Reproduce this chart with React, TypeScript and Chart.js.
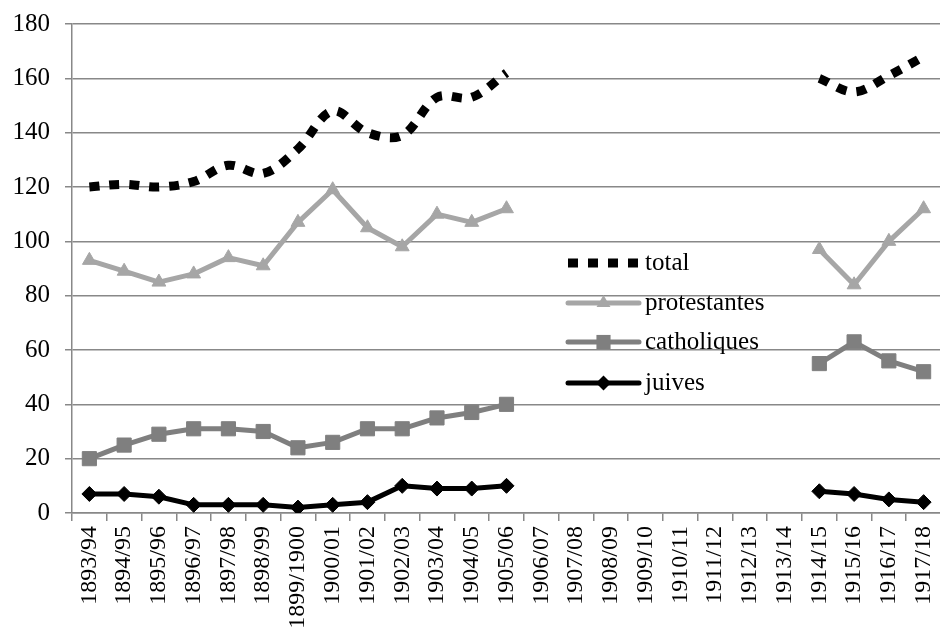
import React, { useEffect, useRef } from 'react';
import { Chart, registerables } from 'chart.js';

Chart.register(...registerables);

const categories = [
  '1893/94', '1894/95', '1895/96', '1896/97', '1897/98', '1898/99', '1899/1900',
  '1900/01', '1901/02', '1902/03', '1903/04', '1904/05', '1905/06', '1906/07',
  '1907/08', '1908/09', '1909/10', '1910/11', '1911/12', '1912/13', '1913/14',
  '1914/15', '1915/16', '1916/17', '1917/18',
];

const total = [120, 121, 120, 122, 128, 125, 134, 148, 140, 139, 153, 153, 162,
  null, null, null, null, null, null, null, null, 160, 155, 161, 168];
const protestantes = [93, 89, 85, 88, 94, 91, 107, 119, 105, 98, 110, 107, 112,
  null, null, null, null, null, null, null, null, 97, 84, 100, 112];
const catholiques = [20, 25, 29, 31, 31, 30, 24, 26, 31, 31, 35, 37, 40,
  null, null, null, null, null, null, null, null, 55, 63, 56, 52];
const juives = [7, 7, 6, 3, 3, 3, 2, 3, 4, 10, 9, 9, 10,
  null, null, null, null, null, null, null, null, 8, 7, 5, 4];

const seriesNames = ['total', 'protestantes', 'catholiques', 'juives'];
const yTicks = [0, 20, 40, 60, 80, 100, 120, 140, 160, 180];

const FONT = "'Liberation Serif', 'Times New Roman', serif";

function drawMarker(ctx: CanvasRenderingContext2D, style: string, x: number, y: number, r: number, color: string) {
  ctx.save();
  ctx.fillStyle = color;
  ctx.beginPath();
  if (style === 'triangle') {
    for (let k = 0; k < 3; k++) {
      const a = k * (2 * Math.PI / 3);
      const px = x + Math.sin(a) * r;
      const py = y - Math.cos(a) * r;
      if (k === 0) ctx.moveTo(px, py); else ctx.lineTo(px, py);
    }
    ctx.closePath();
  } else if (style === 'rect') {
    const s = Math.SQRT1_2 * r;
    ctx.rect(x - s, y - s, 2 * s, 2 * s);
  } else if (style === 'rectRot') {
    ctx.moveTo(x - r, y);
    ctx.lineTo(x, y - r);
    ctx.lineTo(x + r, y);
    ctx.lineTo(x, y + r);
    ctx.closePath();
  }
  ctx.fill();
  ctx.restore();
}

const insideLegend = {
  id: 'insideLegend',
  afterDatasetsDraw(chart: any) {
    const ctx: CanvasRenderingContext2D = chart.ctx;
    const x0 = 568, x1 = 639, tx = 645;
    const rows = [263, 303, 342, 383];
    chart.data.datasets.forEach((ds: any, i: number) => {
      const y = rows[i];
      ctx.save();
      ctx.strokeStyle = ds.borderColor;
      ctx.lineWidth = ds.borderWidth;
      ctx.lineCap = ds.borderDash && ds.borderDash.length ? 'butt' : 'round';
      ctx.setLineDash(ds.borderDash || []);
      ctx.beginPath();
      ctx.moveTo(x0, y);
      ctx.lineTo(x1, y);
      ctx.stroke();
      ctx.restore();
      if (ds.pointRadius > 0) {
        drawMarker(ctx, ds.pointStyle, (x0 + x1) / 2, y, ds.pointRadius, ds.pointBackgroundColor);
      }
      ctx.save();
      ctx.fillStyle = '#000';
      ctx.font = `25px ${FONT}`;
      ctx.textAlign = 'left';
      ctx.textBaseline = 'middle';
      ctx.fillText(ds.label, tx, y);
      ctx.restore();
    });
  },
};

export default function App() {
  const ref = useRef<HTMLCanvasElement | null>(null);

  useEffect(() => {
    if (!ref.current) return;
    const grid = '#888888';
    const chart = new Chart(ref.current, {
      type: 'line',
      data: {
        labels: categories,
        datasets: [
          {
            label: seriesNames[0],
            data: total,
            borderColor: '#000000',
            backgroundColor: '#000000',
            borderWidth: 9,
            borderDash: [10, 10],
            borderCapStyle: 'butt',
            pointRadius: 0,
            pointHoverRadius: 0,
            tension: 0.35,
            spanGaps: false,
          },
          {
            label: seriesNames[1],
            data: protestantes,
            borderColor: '#A6A6A6',
            backgroundColor: '#A6A6A6',
            borderWidth: 5,
            borderJoinStyle: 'round',
            pointStyle: 'triangle',
            pointRadius: 8,
            pointBackgroundColor: '#A6A6A6',
            pointBorderColor: '#A6A6A6',
            pointBorderWidth: 1,
            tension: 0,
          },
          {
            label: seriesNames[2],
            data: catholiques,
            borderColor: '#7F7F7F',
            backgroundColor: '#7F7F7F',
            borderWidth: 5,
            borderJoinStyle: 'round',
            pointStyle: 'rect',
            pointRadius: 10,
            pointBackgroundColor: '#7F7F7F',
            pointBorderColor: '#7F7F7F',
            pointBorderWidth: 1,
            tension: 0,
          },
          {
            label: seriesNames[3],
            data: juives,
            borderColor: '#000000',
            backgroundColor: '#000000',
            borderWidth: 5,
            borderJoinStyle: 'round',
            pointStyle: 'rectRot',
            pointRadius: 7.5,
            pointBackgroundColor: '#000000',
            pointBorderColor: '#000000',
            pointBorderWidth: 1,
            tension: 0,
          },
        ],
      },
      options: {
        animation: false,
        responsive: false,
        maintainAspectRatio: false,
        devicePixelRatio: 1,
        layout: { padding: { top: 24, right: 5, left: 0, bottom: 0 } },
        plugins: {
          legend: { display: false },
          tooltip: { enabled: false },
        },
        scales: {
          x: {
            type: 'category',
            offset: true,
            grid: {
              offset: true,
              drawOnChartArea: false,
              drawTicks: true,
              tickLength: 8,
              color: grid,
              lineWidth: 1.5,
            },
            border: { display: true, color: grid, width: 1.5 },
            ticks: {
              autoSkip: false,
              maxRotation: 90,
              minRotation: 90,
              padding: 5,
              color: '#000',
              font: { family: FONT, size: 24 },
            },
            afterFit(scale: any) {
              scale.height = 128;
              scale.paddingLeft = 0;
              scale.paddingRight = 0;
            },
          },
          y: {
            min: 0,
            max: 180,
            afterBuildTicks(scale: any) {
              scale.ticks = yTicks.map((v) => ({ value: v }));
            },
            grid: {
              color: grid,
              lineWidth: 1.5,
              tickLength: 7,
              drawTicks: true,
            },
            border: { display: true, color: grid, width: 1.5 },
            ticks: {
              padding: 15,
              color: '#000',
              font: { family: FONT, size: 25 },
            },
            afterFit(scale: any) {
              scale.width = 72;
              scale.paddingTop = 0;
              scale.paddingBottom = 0;
            },
          },
        },
      },
      plugins: [insideLegend],
    } as any);
    return () => chart.destroy();
  }, []);

  return (
    <div style={{ position: 'fixed', left: 0, top: 0, width: 940, height: 641, overflow: 'hidden', background: '#fff' }}>
      <canvas ref={ref} width={952} height={641} style={{ display: 'block', width: 952, height: 641 }} />
    </div>
  );
}
